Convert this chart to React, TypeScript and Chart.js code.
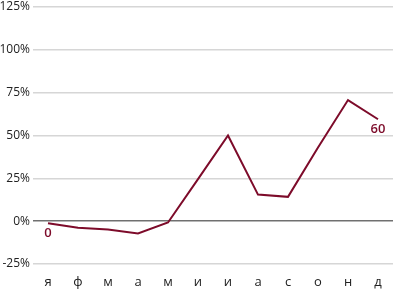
import React, { useEffect, useRef } from "react";
import { Chart, registerables } from "chart.js";

Chart.register(...registerables);

const months = ["я", "ф", "м", "а", "м", "и", "и", "а", "с", "о", "н", "д"];
const values = [-1.2, -3.9, -4.8, -7.2, -0.8, 24.5, 50, 15.5, 14.2, 43, 70.7, 59.5];
const labeledIdx = [0, 11];
const labelTexts = ["0", "60"];
const yTicks = [-25, 0, 25, 50, 75, 100, 125];

const LINE = "#7d0b2a";
const FONT = "'Open Sans', sans-serif";

const pointLabels = {
  id: "pointLabels",
  afterDatasetsDraw(chart: any) {
    const ctx = chart.ctx;
    const meta = chart.getDatasetMeta(0);
    ctx.save();
    ctx.fillStyle = LINE;
    ctx.font = `600 13px ${FONT}`;
    ctx.textAlign = "center";
    ctx.textBaseline = "top";
    labeledIdx.forEach((i, k) => {
      const p = meta.data[i];
      const t = labelTexts[k];
      const w = ctx.measureText(t).width;
      let x = p.x;
      if (x + w / 2 > chart.width - 2) x = chart.width - 2 - w / 2;
      ctx.fillText(t, x, p.y + 4);
    });
    ctx.restore();
  },
};

export default function App() {
  const ref = useRef<HTMLCanvasElement>(null);
  useEffect(() => {
    document.body.style.margin = "0";
    const chart = new Chart(ref.current!, {
      type: "line",
      data: {
        labels: months,
        datasets: [
          {
            data: values,
            borderColor: LINE,
            borderWidth: 2,
            pointRadius: 0,
            tension: 0,
            fill: false,
          },
        ],
      },
      options: {
        animation: false,
        responsive: false,
        maintainAspectRatio: false,
        layout: { padding: { top: 7, right: 0, left: 0, bottom: 0 } },
        plugins: { legend: { display: false }, tooltip: { enabled: false } },
        scales: {
          x: {
            offset: true,
            grid: { display: false, drawTicks: false },
            border: { display: false },
            afterFit: (axis: any) => {
              axis.height = 26;
            },
            ticks: { color: "#222", font: { family: FONT, size: 13 }, padding: 10 },
          },
          y: {
            min: -25,
            max: 125,
            afterBuildTicks: (axis: any) => {
              axis.ticks = yTicks.map((v) => ({ value: v }));
            },
            afterFit: (axis: any) => {
              axis.width = 33;
              axis.paddingTop = 0;
              axis.paddingBottom = 0;
            },
            border: { display: false },
            grid: {
              drawTicks: false,
              color: (c: any) => (c.tick && c.tick.value === 0 ? "#707070" : "#d6d6d6"),
              lineWidth: 1.5,
            },
            ticks: {
              color: "#222",
              padding: 3,
              font: { family: FONT, size: 12 },
              callback: (v: any) => `${v}%`,
            },
          },
        },
      },
      plugins: [pointLabels],
    });
    return () => chart.destroy();
  }, []);
  return (
    <div style={{ width: 393, height: 290 }}>
      <canvas ref={ref} width={393} height={290} />
    </div>
  );
}
